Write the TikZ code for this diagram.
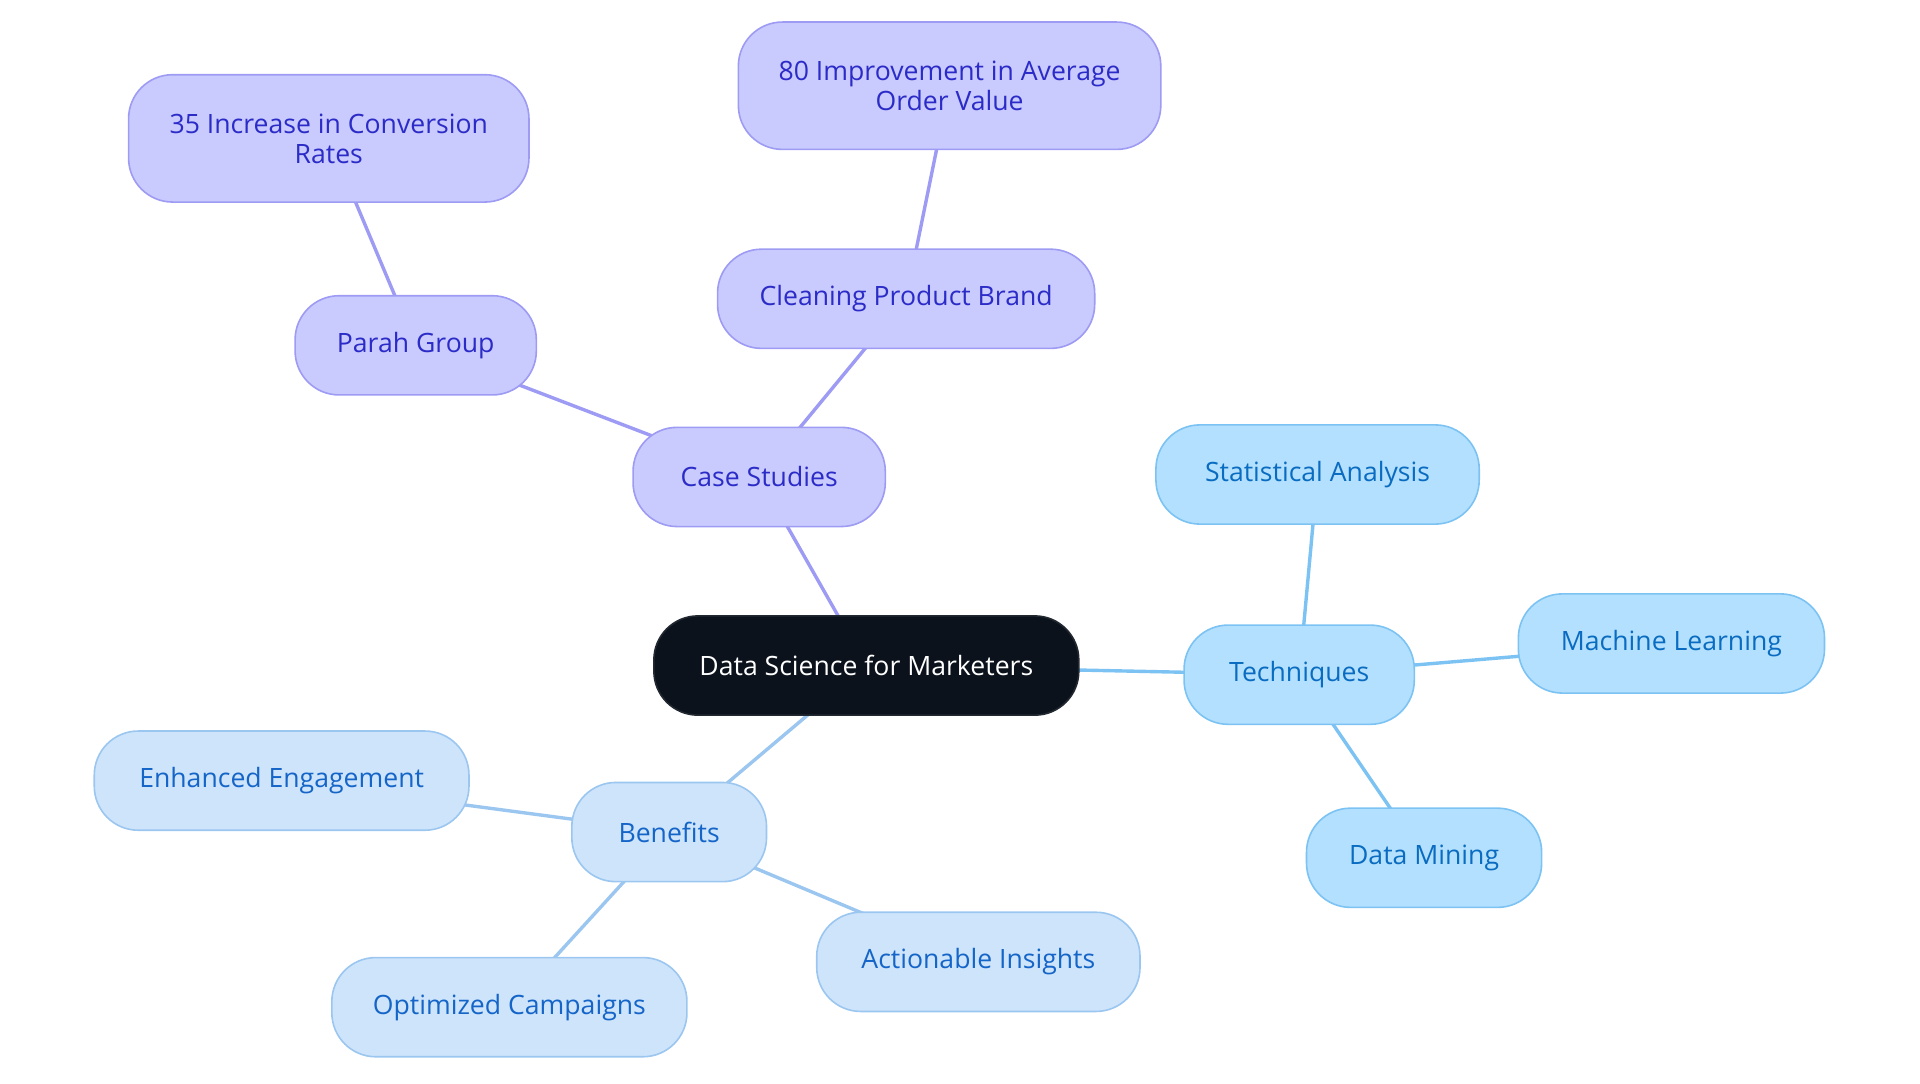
\documentclass[tikz,border=0pt]{standalone}
\usepackage{fontspec}
\setmainfont{Open Sans}
\usetikzlibrary{backgrounds}
\definecolor{cfill}{HTML}{0B121C}
\definecolor{pfill}{HTML}{C9CAFD}
\definecolor{pdraw}{HTML}{9D9BF3}
\definecolor{ptext}{HTML}{2B2BC8}
\definecolor{tfill}{HTML}{B3E0FE}
\definecolor{tdraw}{HTML}{7CC3F3}
\definecolor{ttext}{HTML}{0A6CC0}
\definecolor{bfill}{HTML}{CDE4FB}
\definecolor{bdraw}{HTML}{9BC6F0}
\definecolor{btext}{HTML}{1565C8}
\tikzset{
  mm/.style={rounded corners=22pt, minimum height=49.6pt, inner sep=0pt, line width=0.8pt, align=center, font=\fontsize{13.3}{15}\selectfont},
  central/.style={mm, fill=cfill, draw=cfill!80!gray, text=white},
  purp/.style={mm, fill=pfill, draw=pdraw, text=ptext},
  tech/.style={mm, fill=tfill, draw=tdraw, text=ttext},
  bene/.style={mm, fill=bfill, draw=bdraw, text=btext},
  pedge/.style={draw=pdraw, line width=1.7pt},
  tedge/.style={draw=tdraw, line width=1.7pt},
  bedge/.style={draw=bdraw, line width=1.7pt},
}
\begin{document}
\begin{tikzpicture}[x=0.6122pt, y=-0.6122pt]
\useasboundingbox (0,0) rectangle (1568,884.5);
\node[central, minimum width=347*0.6122pt] (c) at (707.5,543.5) {Data Science for Marketers};
\node[purp, minimum width=206*0.6122pt] (cs) at (620,389.5) {Case Studies};
\node[purp, minimum width=197*0.6122pt] (pg) at (339.5,282) {Parah Group};
\node[purp, minimum width=308*0.6122pt] (cp) at (740,244) {Cleaning Product Brand};
\node[purp, minimum width=327*0.6122pt, minimum height=104*0.6122pt] (ic) at (268.5,113) {35 Increase in Conversion\\Rates};
\node[purp, minimum width=345*0.6122pt, minimum height=104*0.6122pt] (io) at (775.5,70) {80 Improvement in Average\\Order Value};
\node[tech, minimum width=188*0.6122pt] (t) at (1061,551) {Techniques};
\node[tech, minimum width=264*0.6122pt] (sa) at (1076,387.5) {Statistical Analysis};
\node[tech, minimum width=250*0.6122pt] (ml) at (1365,525.5) {Machine Learning};
\node[tech, minimum width=192*0.6122pt] (dm) at (1163,700.5) {Data Mining};
\node[bene, minimum width=159*0.6122pt] (b) at (546.5,679.5) {Benefits};
\node[bene, minimum width=306*0.6122pt] (ee) at (230,637.5) {Enhanced Engagement};
\node[bene, minimum width=290*0.6122pt] (oc) at (416,822.5) {Optimized Campaigns};
\node[bene, minimum width=264*0.6122pt] (ai) at (799,785.5) {Actionable Insights};
\begin{scope}[on background layer]
\draw[pedge] (c.center) -- (cs.center);
\draw[pedge] (cs.center) -- (pg.center);
\draw[pedge] (cs.center) -- (cp.center);
\draw[pedge] (pg.center) -- (ic.center);
\draw[pedge] (cp.center) -- (io.center);
\draw[tedge] (c.center) -- (t.center);
\draw[tedge] (t.center) -- (sa.center);
\draw[tedge] (t.center) -- (ml.center);
\draw[tedge] (t.center) -- (dm.center);
\draw[bedge] (c.center) -- (b.center);
\draw[bedge] (b.center) -- (ee.center);
\draw[bedge] (b.center) -- (oc.center);
\draw[bedge] (b.center) -- (ai.center);
\end{scope}
\end{tikzpicture}
\end{document}
